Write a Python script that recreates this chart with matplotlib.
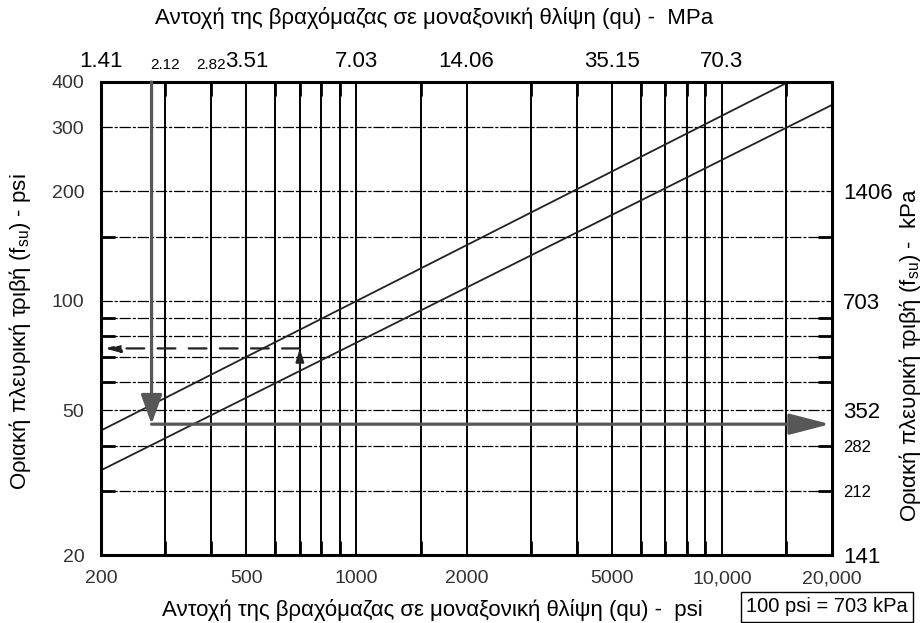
import matplotlib
matplotlib.use('Agg')
import matplotlib.pyplot as plt
from matplotlib.ticker import NullFormatter, NullLocator

plt.rcParams['font.family'] = ['Liberation Sans', 'DejaVu Sans']
plt.rcParams['mathtext.fontset'] = 'custom'
plt.rcParams['mathtext.rm'] = 'Liberation Sans'

# grid lines of the chart (psi)
qu_grid = [300, 400, 500, 600, 700, 800, 900, 1000, 1500, 2000, 3000, 4000,
           5000, 6000, 7000, 8000, 9000, 10000, 15000]
fsu_grid = [30, 40, 50, 60, 70, 80, 90, 100, 150, 200, 300]

# tick labels
x_ticks = [200, 500, 1000, 2000, 5000, 10000, 20000]
x_labels = ['200', '500', '1000', '2000', '5000', '10,000', '20,000']
y_ticks = [20, 50, 100, 200, 300, 400]
y_labels = ['20', '50', '100', '200', '300', '400']
top_ticks = [200, 300, 400, 500, 1000, 2000, 5000, 10000]
top_labels = ['1.41', '2.12', '2.82', '3.51', '7.03', '14.06', '35.15', '70.3']
right_ticks = [200, 100, 50, 40, 30, 20]
right_labels = ['1406', '703', '352', '282', '212', '141']

# the two design lines
upper_qu = [200, 15200]
upper_fsu = [44, 400]
lower_qu = [200, 20000]
lower_fsu = [34.2, 346]

# worked examples
qu_example = 275
fsu_example = 45.8
qu_check = 700
fsu_check = [65.6, 74]

fig = plt.figure(figsize=(9.22, 6.23), dpi=100)
ax = fig.add_axes([101 / 922, 68 / 623, 731 / 922, 473 / 623])
ax.set_xscale('log')
ax.set_yscale('log')
ax.set_xlim(200, 20000)
ax.set_ylim(20, 400)

ax.vlines(qu_grid, 20, 400, colors='black', lw=1.4, zorder=1)
ax.hlines(fsu_grid, 200, 20000, colors='black', lw=0.9,
          linestyles=(0, (9, 1.5, 2.5, 1.5)), zorder=1)

ax.plot(upper_qu, upper_fsu, color='#222222', lw=1.3, zorder=2)
ax.plot(lower_qu, lower_fsu, color='#222222', lw=1.3, zorder=2)

gray = '#575757'
ax.annotate('', xy=(qu_example, fsu_example), xytext=(qu_example, 400),
            arrowprops=dict(arrowstyle='-|>,head_length=1.8,head_width=0.65',
                            color=gray, lw=2.3, shrinkA=0, shrinkB=0), zorder=3)
ax.annotate('', xy=(19750, fsu_example), xytext=(qu_example, fsu_example),
            arrowprops=dict(arrowstyle='-|>,head_length=2.5,head_width=0.65',
                            color=gray, lw=2.3, shrinkA=0, shrinkB=0), zorder=3)

ax.annotate('', xy=(qu_check, fsu_check[1]), xytext=(qu_check, fsu_check[0]),
            arrowprops=dict(arrowstyle='-|>,head_length=0.8,head_width=0.25',
                            color='#222222', lw=1.4, shrinkA=0, shrinkB=0))
ax.annotate('', xy=(205, fsu_check[1]), xytext=(qu_check, fsu_check[1]),
            arrowprops=dict(arrowstyle='-|>,head_length=0.9,head_width=0.25',
                            color='#222222', lw=1.6, linestyle=(0, (8, 6)),
                            shrinkA=0, shrinkB=0))

for s in ax.spines.values():
    s.set_linewidth(2.2)

ax.set_xticks(x_ticks, labels=x_labels)
ax.set_yticks(y_ticks, labels=y_labels)
ax.set_xticks(qu_grid, minor=True)
ax.set_yticks(fsu_grid, minor=True)
ax.xaxis.set_minor_formatter(NullFormatter())
ax.yaxis.set_minor_formatter(NullFormatter())
ax.tick_params(which='major', length=0)
ax.tick_params(which='minor', direction='in', length=10, width=2,
               top=True, right=True, left=True, bottom=True)
ax.tick_params(axis='x', which='major', pad=11, labelsize=14, labelcolor='#333333')
ax.tick_params(axis='y', which='major', pad=12, labelsize=14, labelcolor='#333333')

top = ax.secondary_xaxis('top')
top.set_xticks(top_ticks, labels=top_labels)
top.xaxis.set_minor_locator(NullLocator())
top.tick_params(length=0, pad=7, labelsize=16)
for lab in top.get_xticklabels():
    if lab.get_text() in ('2.12', '2.82'):
        lab.set_fontsize(11)

right = ax.secondary_yaxis('right')
right.set_yticks(right_ticks, labels=right_labels)
right.yaxis.set_minor_locator(NullLocator())
right.tick_params(length=0, pad=8, labelsize=16)
for lab in right.get_yticklabels():
    if lab.get_text() in ('282', '212'):
        lab.set_fontsize(12)

fig.text(434 / 922, 1 - 18 / 623,
         'Αντοχή της βραχόμαζας σε μοναξονική θλίψη (qu) -  MPa',
         ha='center', va='center', fontsize=16)
fig.text(432 / 922, 1 - 610 / 623,
         'Αντοχή της βραχόμαζας σε μοναξονική θλίψη (qu) -  psi',
         ha='center', va='center', fontsize=16)
fig.text(20 / 922, 1 - 332 / 623,
         r'Οριακή πλευρική τριβή (f$_{\mathrm{su}}$) - psi',
         ha='center', va='center', rotation=90, fontsize=16)
fig.text(910 / 922, 1 - 355 / 623,
         r'Οριακή πλευρική τριβή (f$_{\mathrm{su}}$) -  kPa',
         ha='center', va='center', rotation=90, fontsize=16)
fig.text(746 / 922, 1 - 607 / 623, '100 psi = 703 kPa', ha='left', va='center',
         fontsize=14.5,
         bbox=dict(boxstyle='square,pad=0.25', fc='white', ec='black', lw=1))

fig.savefig('out.png', dpi=100)
